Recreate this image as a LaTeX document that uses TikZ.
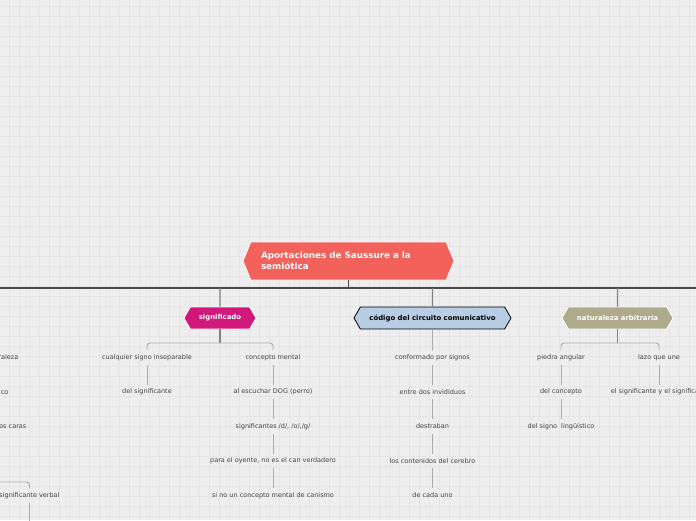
\documentclass[tikz,border=0pt]{standalone}
\usepackage{fontspec}
\setmainfont{DejaVu Sans}
\usepackage{tikz}
\usetikzlibrary{shapes.symbols, positioning}
\definecolor{bgc}{HTML}{EEEEEE}
\definecolor{gridc}{HTML}{E5E5E5}
\definecolor{rootc}{HTML}{F2625A}
\definecolor{magc}{HTML}{D0197A}
\definecolor{bluec}{HTML}{B8CCE4}
\definecolor{khakic}{HTML}{ADAB8C}
\definecolor{purc}{HTML}{8E24AA}
\definecolor{busc}{HTML}{4A4A4A}
\definecolor{branchc}{HTML}{808080}
\definecolor{linkc}{HTML}{ABABAB}
\definecolor{txtc}{HTML}{444444}
\tikzset{
  hex/.style={signal, signal to=west and east, signal pointer angle=120, minimum height=22pt, inner xsep=2pt,
    font=\fontsize{6.9}{8}\selectfont\bfseries, text=white, draw=white, line width=0.8pt},
  root/.style={hex, fill=rootc, minimum height=38pt, minimum width=211pt, text width=175pt, align=left,
    font=\fontsize{8.8}{11}\selectfont\bfseries, signal pointer angle=135},
  leaf/.style={font=\fontsize{6.5}{8}\selectfont, text=txtc, inner sep=0pt, minimum height=14pt}
}
\tikzstyle{bus} = [busc, line width=1.1pt]
\tikzstyle{branch} = [branchc, line width=1.1pt]
\tikzstyle{link} = [linkc, line width=0.9pt, rounded corners=3pt]

\begin{document}
\begin{tikzpicture}[x=1pt, y=-1pt, node distance=34.5pt]
    \useasboundingbox (0,0) rectangle (696,520);
    \clip (0,0) rectangle (696,520);
    \fill [bgc] (0,0) rectangle (696,520);
    \foreach \i in {9,19,...,689} \draw [gridc, line width=0.6pt] (\i,0) -- (\i,520);
    \foreach \j in {6,16,...,516} \draw [gridc, line width=0.6pt] (0,\j) -- (696,\j);

    % main topic and branches
    \node [root] (r) at (348.5,261) {Aportaciones de Saussure a la\\semiótica};
    \node [hex, fill=purc, minimum width=70pt, anchor=east] (a) at (1.5,318) {};
    \node [hex, fill=magc, minimum width=72pt] (b) at (220,318) {significado};
    \node [hex, fill=bluec, draw=black, text=black, minimum width=157pt] (c) at (432.5,318) {código del circuito comunicativo};
    \node [hex, fill=khakic, minimum width=111pt] (d) at (617.5,318) {naturaleza arbitraria};

    \coordinate (rj) at (348.5,288);
    \coordinate (busl) at (-10,288);
    \coordinate (busr) at (706,288);
    \draw [bus] (r) -- (rj);
    \draw [bus] (busl) -- (busr);
    \draw [branch] (b) -- (b |- rj);
    \draw [branch] (c) -- (c |- rj);
    \draw [branch] (d) -- (d |- rj);

    % left branch (cut off)
    \node [leaf, anchor=east] (a1) at (18.5,357.5) {raleza};
    \node [leaf, anchor=east] (a2) at (8.5,392.5) {ico};
    \node [leaf, anchor=east] (a3) at (26.5,426.5) {os caras};
    \node [leaf] (a4) at (29.5,495.5) {significante verbal};
    \coordinate (a4in) at (-10,482);
    \coordinate (a4out) at (29.5,530);
    \draw [link] (a4in) -| (a4);
    \draw [link] (a4) -- (a4out);

    % significado
    \node [leaf] (b1) at (147,357.5) {cualquier signo inseparable};
    \node [leaf] (b2) [below of=b1] {del significante};
    \node [leaf] (b3) at (273,357.5) {concepto mental};
    \node [leaf] (b4) [below of=b3] {al escuchar DOG (perro)};
    \node [leaf] (b5) [below of=b4] {significantes /d/, /o/,/g/};
    \node [leaf] (b6) [below of=b5] {para el oyente, no es el can verdadero};
    \node [leaf] (b7) [below of=b6] {si no un concepto mental de canismo};
    \coordinate (bf) at (220,343);
    \draw [branch] (b) -- (bf);
    \draw [link] (bf) -| (b1);
    \draw [link] (bf) -| (b3);
    \draw [link] (b1) -- (b2);
    \draw [link] (b3) -- (b4);
    \draw [link] (b4) -- (b5);
    \draw [link] (b5) -- (b6);
    \draw [link] (b6) -- (b7);

    % codigo
    \node [leaf] (c1) at (432.5,357.5) {conformado por signos};
    \node [leaf] (c2) [below of=c1] {entre dos invididuos};
    \node [leaf] (c3) [below of=c2] {destraban};
    \node [leaf] (c4) [below of=c3] {los contenidos del cerebro};
    \node [leaf] (c5) [below of=c4] {de cada uno};
    \draw [link] (c) -- (c1);
    \draw [link] (c1) -- (c2);
    \draw [link] (c2) -- (c3);
    \draw [link] (c3) -- (c4);
    \draw [link] (c4) -- (c5);

    % naturaleza arbitraria
    \node [leaf] (d1) at (561,357.5) {piedra angular};
    \node [leaf] (d2) [below of=d1] {del concepto};
    \node [leaf] (d3) [below of=d2] {del signo\ \ lingüístico};
    \node [leaf] (d4) at (659,357.5) {lazo que une};
    \node [leaf] (d5) [below of=d4] {el significante y el significado};
    \coordinate (df) at (617.5,343);
    \draw [branch] (d) -- (df);
    \draw [link] (df) -| (d1);
    \draw [link] (df) -| (d4);
    \draw [link] (d1) -- (d2);
    \draw [link] (d2) -- (d3);
    \draw [link] (d4) -- (d5);
\end{tikzpicture}
\end{document}
